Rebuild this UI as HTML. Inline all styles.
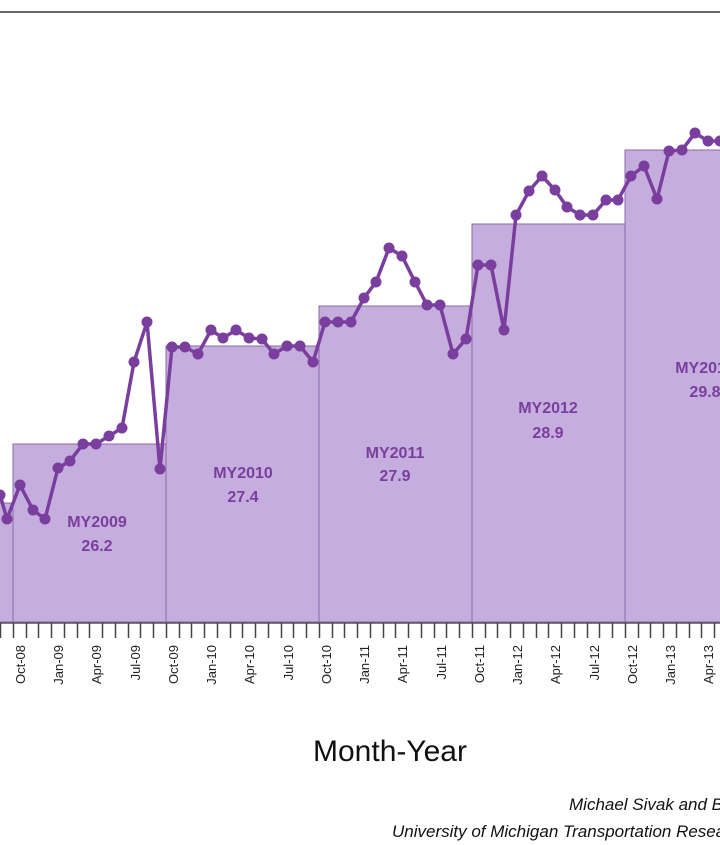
<!DOCTYPE html>
<html><head><style>body{margin:0;background:#fff}svg{display:block}</style></head><body>
<svg width="720" height="845" xmlns="http://www.w3.org/2000/svg" font-family="Liberation Sans, Arial, sans-serif">
<line x1="0" y1="12" x2="720" y2="12" stroke="#666" stroke-width="2"/>
<g fill="#c5aedd" stroke="#8a68a8" stroke-width="1">
<rect x="-5" y="503" width="18" height="119"/>
<rect x="13" y="444" width="153" height="178"/>
<rect x="166" y="346" width="153" height="276"/>
<rect x="319" y="306" width="153" height="316"/>
<rect x="472" y="224" width="153" height="398"/>
<rect x="625" y="150" width="153" height="472"/>
</g>
<g fill="#7a3e9e" font-weight="bold" font-size="16" text-anchor="middle">
<text x="97" y="527">MY2009</text><text x="97" y="551">26.2</text>
<text x="243" y="478">MY2010</text><text x="243" y="502">27.4</text>
<text x="395" y="458">MY2011</text><text x="395" y="481">27.9</text>
<text x="548" y="413">MY2012</text><text x="548" y="438">28.9</text>
<text x="705" y="373">MY2013</text><text x="705" y="397">29.8</text>
</g>
<polyline fill="none" stroke="#7a3e9e" stroke-width="3.5" points="0,495 7,519 20,485 33,510 45,519 58,468 70,461 83,444 96,444 109,436 122,428 134,362 147,322 160,469 172,347 185,347 198,354 211,330 223,338 236,330 249,338 262,339 274,354 287,346 300,346 313,362 325,322 338,322 351,322 364,298 376,282 389,248 402,256 415,282 427,305 440,305 453,354 466,339 478,265 491,265 504,330 516,215 529,191 542,176 555,190 567,207 580,215 593,215 606,200 618,200 631,176 644,166 657,199 669,151 682,150 695,133 708,141 720,141"/>
<g fill="#7a3e9e" id="d">
<circle cx="0" cy="495" r="5.5"/><circle cx="7" cy="519" r="5.5"/><circle cx="20" cy="485" r="5.5"/><circle cx="33" cy="510" r="5.5"/><circle cx="45" cy="519" r="5.5"/><circle cx="58" cy="468" r="5.5"/><circle cx="70" cy="461" r="5.5"/><circle cx="83" cy="444" r="5.5"/><circle cx="96" cy="444" r="5.5"/><circle cx="109" cy="436" r="5.5"/><circle cx="122" cy="428" r="5.5"/><circle cx="134" cy="362" r="5.5"/><circle cx="147" cy="322" r="5.5"/><circle cx="160" cy="469" r="5.5"/><circle cx="172" cy="347" r="5.5"/><circle cx="185" cy="347" r="5.5"/><circle cx="198" cy="354" r="5.5"/><circle cx="211" cy="330" r="5.5"/><circle cx="223" cy="338" r="5.5"/><circle cx="236" cy="330" r="5.5"/><circle cx="249" cy="338" r="5.5"/><circle cx="262" cy="339" r="5.5"/><circle cx="274" cy="354" r="5.5"/><circle cx="287" cy="346" r="5.5"/><circle cx="300" cy="346" r="5.5"/><circle cx="313" cy="362" r="5.5"/><circle cx="325" cy="322" r="5.5"/><circle cx="338" cy="322" r="5.5"/><circle cx="351" cy="322" r="5.5"/><circle cx="364" cy="298" r="5.5"/><circle cx="376" cy="282" r="5.5"/><circle cx="389" cy="248" r="5.5"/><circle cx="402" cy="256" r="5.5"/><circle cx="415" cy="282" r="5.5"/><circle cx="427" cy="305" r="5.5"/><circle cx="440" cy="305" r="5.5"/><circle cx="453" cy="354" r="5.5"/><circle cx="466" cy="339" r="5.5"/><circle cx="478" cy="265" r="5.5"/><circle cx="491" cy="265" r="5.5"/><circle cx="504" cy="330" r="5.5"/><circle cx="516" cy="215" r="5.5"/><circle cx="529" cy="191" r="5.5"/><circle cx="542" cy="176" r="5.5"/><circle cx="555" cy="190" r="5.5"/><circle cx="567" cy="207" r="5.5"/><circle cx="580" cy="215" r="5.5"/><circle cx="593" cy="215" r="5.5"/><circle cx="606" cy="200" r="5.5"/><circle cx="618" cy="200" r="5.5"/><circle cx="631" cy="176" r="5.5"/><circle cx="644" cy="166" r="5.5"/><circle cx="657" cy="199" r="5.5"/><circle cx="669" cy="151" r="5.5"/><circle cx="682" cy="150" r="5.5"/><circle cx="695" cy="133" r="5.5"/><circle cx="708" cy="141" r="5.5"/><circle cx="720" cy="141" r="5.5"/>
</g>
<line x1="0" y1="623" x2="720" y2="623" stroke="#555" stroke-width="1.5"/>
<g stroke="#444" stroke-width="1.5">
<path d="M0.5 623v15M13.5 623v15M26.5 623v15M38.5 623v15M51.5 623v15M64.5 623v15M77.5 623v15M89.5 623v15M102.5 623v15M115.5 623v15M128.5 623v15M140.5 623v15M153.5 623v15M166.5 623v15M179.5 623v15M191.5 623v15M204.5 623v15M217.5 623v15M230.5 623v15M242.5 623v15M255.5 623v15M268.5 623v15M281.5 623v15M293.5 623v15M306.5 623v15M319.5 623v15M332.5 623v15M344.5 623v15M357.5 623v15M370.5 623v15M383.5 623v15M395.5 623v15M408.5 623v15M421.5 623v15M434.5 623v15M446.5 623v15M459.5 623v15M472.5 623v15M485.5 623v15M497.5 623v15M510.5 623v15M523.5 623v15M536.5 623v15M548.5 623v15M561.5 623v15M574.5 623v15M587.5 623v15M599.5 623v15M612.5 623v15M625.5 623v15M638.5 623v15M650.5 623v15M663.5 623v15M676.5 623v15M689.5 623v15M701.5 623v15M714.5 623v15"/>
</g>
<g font-size="13" fill="#222" text-anchor="end">
<text transform="translate(25,645) rotate(-90)">Oct-08</text>
<text transform="translate(63,645) rotate(-90)">Jan-09</text>
<text transform="translate(101,645) rotate(-90)">Apr-09</text>
<text transform="translate(140,645) rotate(-90)">Jul-09</text>
<text transform="translate(178,645) rotate(-90)">Oct-09</text>
<text transform="translate(216,645) rotate(-90)">Jan-10</text>
<text transform="translate(254,645) rotate(-90)">Apr-10</text>
<text transform="translate(293,645) rotate(-90)">Jul-10</text>
<text transform="translate(331,645) rotate(-90)">Oct-10</text>
<text transform="translate(369,645) rotate(-90)">Jan-11</text>
<text transform="translate(407,645) rotate(-90)">Apr-11</text>
<text transform="translate(446,645) rotate(-90)">Jul-11</text>
<text transform="translate(484,645) rotate(-90)">Oct-11</text>
<text transform="translate(522,645) rotate(-90)">Jan-12</text>
<text transform="translate(560,645) rotate(-90)">Apr-12</text>
<text transform="translate(599,645) rotate(-90)">Jul-12</text>
<text transform="translate(637,645) rotate(-90)">Oct-12</text>
<text transform="translate(675,645) rotate(-90)">Jan-13</text>
<text transform="translate(713,645) rotate(-90)">Apr-13</text>
</g>
<text x="390" y="761" font-size="30" text-anchor="middle" fill="#111">Month-Year</text>
<g font-size="17" font-style="italic" fill="#111">
<text x="569" y="810">Michael Sivak and Brandon Schoettle</text>
<text x="392" y="837">University of Michigan Transportation Research Institute</text>
</g>
</svg>
</body></html>
